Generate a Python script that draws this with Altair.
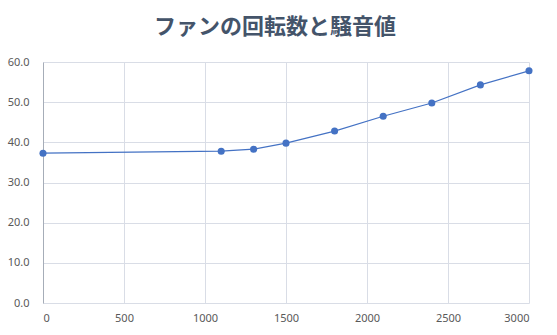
import altair as alt
import pandas as pd

rpm = [0, 1100, 1300, 1500, 1800, 2100, 2400, 2700, 3000]
noise = [37.3, 37.8, 38.3, 39.8, 42.8, 46.5, 49.8, 54.3, 57.8]
title_text = "ファンの回転数と騒音値"

df = pd.DataFrame({"rpm": rpm, "noise": noise})

x = alt.X("rpm:Q", scale=alt.Scale(domain=[0, 3000], nice=False),
          axis=alt.Axis(values=[0, 500, 1000, 1500, 2000, 2500, 3000], format="d", title=None,
                        domain=False, ticks=False, labelPadding=9,
                        gridColor="#D9DDE6", labelColor="#595959", labelFontSize=11))
y = alt.Y("noise:Q", scale=alt.Scale(domain=[0, 60], nice=False),
          axis=alt.Axis(values=[0, 10, 20, 30, 40, 50, 60], format=".1f", title=None,
                        domain=True, domainColor="#A6ADB8", ticks=False, labelPadding=14,
                        gridColor="#D9DDE6", labelColor="#595959", labelFontSize=11))

line = alt.Chart(df).mark_line(color="#4472C4", strokeWidth=1.2).encode(x=x, y=y)
pts = alt.Chart(df).mark_circle(color="#4472C4", size=50, opacity=1).encode(x=x, y=y)

chart = alt.layer(line, pts).properties(
    width=486, height=241,
    autosize=alt.AutoSizeParams(type="none"),
    padding={"left": 43, "top": 62, "right": 28, "bottom": 32},
    background="white",
    title=alt.TitleParams(title_text, font="Noto Sans CJK JP", fontSize=22, fontWeight="bold",
                          color="#44546A", anchor="middle", offset=17, dx=-11),
).configure_view(stroke=None).configure_axis(labelFont="Noto Sans", gridWidth=1)

chart.save("out.html", embed_options={"renderer": "svg", "actions": False})
